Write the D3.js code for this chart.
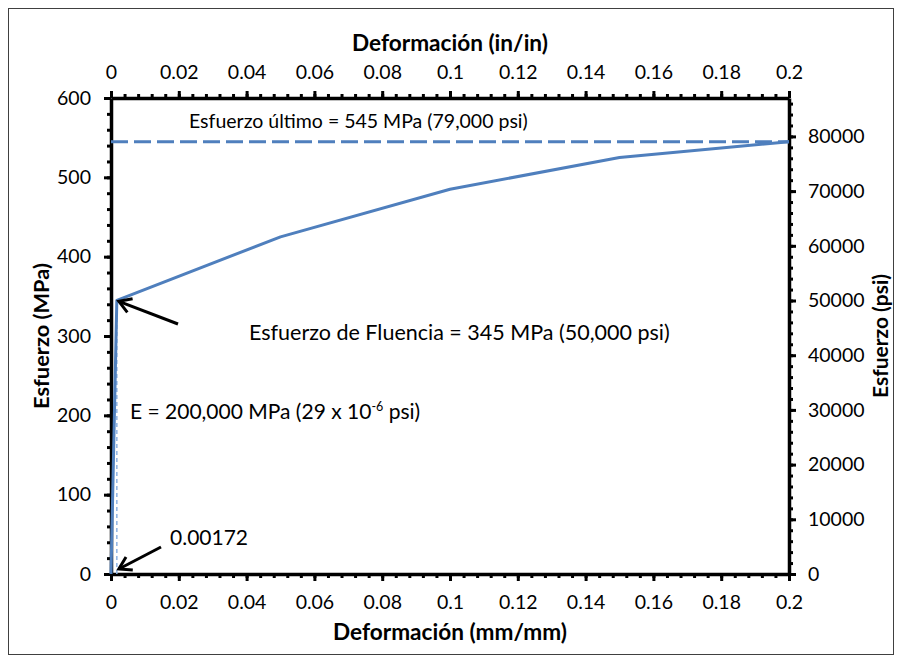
<!DOCTYPE html>
<html>
<head>
<meta charset="utf-8">
<script src="https://cdn.jsdelivr.net/npm/d3@7"></script>
<style>
  body { margin: 0; background: #fff; }
  text { font-family: Lato, "Open Sans", sans-serif; fill: #000; }
</style>
</head>
<body>
<svg id="chart" width="902" height="663"></svg>
<script>
// Stress–strain curve for structural steel
const strain = [0, 0.00172, 0.05, 0.1, 0.15, 0.2];          // mm/mm
const stress = [0, 345, 425, 485, 525, 545];                  // MPa
const yieldStrain = 0.00172;
const yieldStress = 345;
const ultimateStress = 545;
const strainTicks = [0, 0.02, 0.04, 0.06, 0.08, 0.1, 0.12, 0.14, 0.16, 0.18, 0.2];
const mpaTicks = [0, 100, 200, 300, 400, 500, 600];
const psiTicks = [0, 10000, 20000, 30000, 40000, 50000, 60000, 70000, 80000];
const MPA_TO_PSI = 145.038;

const svg = d3.select("#chart");
const blue = "#4f7fbd";
const tickFont = 19.5;

// outer frame
svg.append("rect").attr("x", 8.5).attr("y", 8.5).attr("width", 885).attr("height", 646)
  .attr("fill", "none").attr("stroke", "#404040").attr("stroke-width", 1);

const x = d3.scaleLinear().domain([0, 0.2]).range([111, 789]);
const y = d3.scaleLinear().domain([0, 600]).range([574, 98]);
const yPsi = d3.scaleLinear().domain([0, 600 * MPA_TO_PSI]).range([574, 98]);

const fmtStrain = d => String(+d.toFixed(3));

function styleAxis(g) {
  g.select(".domain").attr("stroke", "#000").attr("stroke-width", 3.5);
  g.selectAll(".tick line").attr("stroke", "#000").attr("stroke-width", 3);
  g.selectAll(".tick text").attr("font-size", tickFont).attr("font-family", "Lato, 'Open Sans', sans-serif");
}

// minor ticks
function minor(axisFn, scale, step, lo, hi, transform) {
  const vals = d3.range(lo, hi + step / 2, step);
  const g = svg.append("g").attr("transform", transform)
    .call(axisFn(scale).tickValues(vals).tickSize(4).tickFormat("").tickSizeOuter(0));
  g.select(".domain").remove();
  g.selectAll(".tick line").attr("stroke", "#000").attr("stroke-width", 3);
}
minor(d3.axisBottom, x, 0.004, 0, 0.2, "translate(0,574)");
minor(d3.axisTop, x, 0.004, 0, 0.2, "translate(0,98)");
minor(d3.axisLeft, y, 20, 0, 600, "translate(111,0)");
minor(d3.axisRight, yPsi, 2000, 0, 86000, "translate(789,0)");

const gB = svg.append("g").attr("transform", "translate(0,574)")
  .call(d3.axisBottom(x).tickValues(strainTicks).tickFormat(fmtStrain).tickSize(7).tickSizeOuter(0).tickPadding(14));
styleAxis(gB);
const gT = svg.append("g").attr("transform", "translate(0,98)")
  .call(d3.axisTop(x).tickValues(strainTicks).tickFormat(fmtStrain).tickSize(7).tickSizeOuter(0).tickPadding(12));
styleAxis(gT);
const gL = svg.append("g").attr("transform", "translate(111,0)")
  .call(d3.axisLeft(y).tickValues(mpaTicks).tickSize(7).tickSizeOuter(0).tickPadding(13));
styleAxis(gL);
const gR = svg.append("g").attr("transform", "translate(789,0)")
  .call(d3.axisRight(yPsi).tickValues(psiTicks).tickFormat(d3.format("d")).tickSize(7).tickSizeOuter(0).tickPadding(12));
styleAxis(gR);

// size a text element so that it spans the given width
function fitWidth(sel, width) {
  const base = +sel.attr("font-size");
  const w = sel.node().getComputedTextLength();
  sel.attr("font-size", base * width / w);
  return sel;
}

// axis titles
svg.append("text").attr("x", 450).attr("y", 51).attr("text-anchor", "middle")
  .attr("font-size", 20).attr("font-weight", "bold").text("Deformación (in/in)")
  .call(s => fitWidth(s, 196));
svg.append("text").attr("x", 450).attr("y", 640).attr("text-anchor", "middle")
  .attr("font-size", 20).attr("font-weight", "bold").text("Deformación (mm/mm)")
  .call(s => fitWidth(s, 234));
svg.append("text").attr("transform", "translate(49,336) rotate(-90)").attr("text-anchor", "middle")
  .attr("font-size", 20).attr("font-weight", "bold").text("Esfuerzo (MPa)")
  .call(s => fitWidth(s, 146));
svg.append("text").attr("transform", "translate(888,336) rotate(-90)").attr("text-anchor", "middle")
  .attr("font-size", 20).attr("font-weight", "bold").text("Esfuerzo (psi)")
  .call(s => fitWidth(s, 124));

// ultimate stress reference line
svg.append("line")
  .attr("x1", x(0)).attr("x2", x(0.2)).attr("y1", y(ultimateStress)).attr("y2", y(ultimateStress))
  .attr("stroke", blue).attr("stroke-width", 3).attr("stroke-dasharray", "17,6");

// yield strain marker
svg.append("line")
  .attr("x1", x(yieldStrain)).attr("x2", x(yieldStrain)).attr("y1", y(0)).attr("y2", y(yieldStress))
  .attr("stroke", "#8fb4e3").attr("stroke-width", 1.5).attr("stroke-dasharray", "4,3");

// stress–strain curve
const pts = strain.map((s, i) => [s, stress[i]]);
svg.append("path").datum(pts)
  .attr("d", d3.line().x(d => x(d[0])).y(d => y(d[1])))
  .attr("fill", "none").attr("stroke", blue).attr("stroke-width", 3).attr("stroke-linejoin", "round");

// arrows
function arrow(x1, y1, x2, y2) {
  const g = svg.append("g");
  g.append("line").attr("x1", x1).attr("y1", y1).attr("x2", x2).attr("y2", y2)
    .attr("stroke", "#000").attr("stroke-width", 3);
  const a = Math.atan2(y2 - y1, x2 - x1);
  const L = 14, w = 0.55;
  const p1 = [x2 - L * Math.cos(a - w), y2 - L * Math.sin(a - w)];
  const p2 = [x2 - L * Math.cos(a + w), y2 - L * Math.sin(a + w)];
  g.append("path").attr("d", `M${p1}L${x2},${y2}L${p2}`)
    .attr("fill", "none").attr("stroke", "#000").attr("stroke-width", 3).attr("stroke-linejoin", "miter");
}
arrow(178, 324, x(yieldStrain) + 2, y(yieldStress) + 1);
arrow(161, 547, x(yieldStrain) + 2, y(0) - 5);

// annotations
svg.append("text").attr("x", 189).attr("y", 128).attr("font-size", 19.5)
  .text("Esfuerzo último = 545 MPa (79,000 psi)");
svg.append("text").attr("x", 249).attr("y", 340).attr("font-size", 21.5)
  .text("Esfuerzo de Fluencia = 345 MPa (50,000 psi)");
const eText = svg.append("text").attr("x", 130).attr("y", 419).attr("font-size", 21);
eText.append("tspan").text("E = 200,000 MPa (29 x 10");
eText.append("tspan").attr("dy", -8).attr("font-size", 12.5).text("-6");
eText.append("tspan").attr("dy", 8).text(" psi)");
svg.append("text").attr("x", 170).attr("y", 545).attr("font-size", 21).text("0.00172");
</script>
</body>
</html>
